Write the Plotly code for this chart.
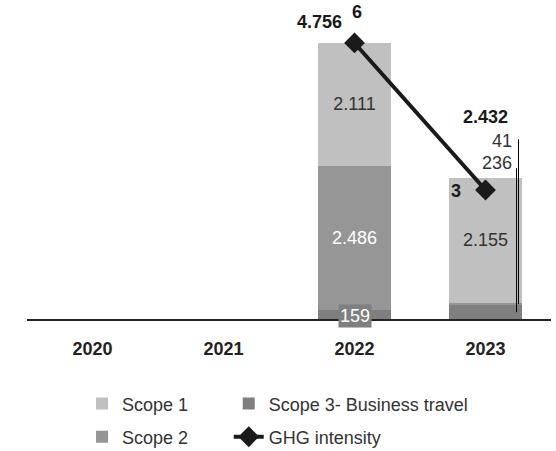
import plotly.graph_objects as go

# Emissions by year (tCO2e) and GHG intensity
years = ["2020", "2021", "2022", "2023"]
scope1 = [None, None, 2111, 2155]
scope2 = [None, None, 2486, 41]
scope3_travel = [None, None, 159, 236]
ghg_intensity = [None, None, 6, 3]

FONT = "Liberation Sans, Arial, sans-serif"
C_SCOPE1 = "#c0c0c0"
C_SCOPE2 = "#969696"
C_SCOPE3 = "#7f7f7f"
C_LINE = "#1a1a1a"
C_TEXT = "#333333"
LABEL_MIN = 300  # smaller segments get an outside label instead of an inside one


def fmt(v):
    return f"{v:,}".replace(",", ".")


def inside_labels(values):
    return [fmt(v) if v is not None and v >= LABEL_MIN else "" for v in values]


totals = [None if a is None else a + b + c
          for a, b, c in zip(scope1, scope2, scope3_travel)]

fig = go.Figure()

bar_common = dict(x=years, width=0.55, marker_line_width=0,
                  textposition="inside", insidetextanchor="middle",
                  textangle=0, constraintext="none", hoverinfo="skip")

fig.add_bar(name="Scope 3- Business travel", y=scope3_travel,
            marker_color=C_SCOPE3, legend="legend2", **bar_common)
fig.add_bar(name="Scope 2", y=scope2, marker_color=C_SCOPE2,
            text=inside_labels(scope2), textfont=dict(color="white", size=18),
            legend="legend3", **bar_common)
fig.add_bar(name="Scope 1", y=scope1, marker_color=C_SCOPE1,
            text=inside_labels(scope1), textfont=dict(color=C_TEXT, size=18),
            legend="legend", **bar_common)

fig.add_scatter(name="GHG intensity", x=years, y=ghg_intensity, yaxis="y2",
                mode="lines+markers", line=dict(color=C_LINE, width=4),
                marker=dict(symbol="diamond", size=16, color=C_LINE),
                cliponaxis=False, legend="legend4", hoverinfo="skip")

annotations = []
# stacked totals (x given as category index)
total_offsets = {"2022": (-35, 21), "2023": (0, 61)}
for i, (yr, t) in enumerate(zip(years, totals)):
    if t is None:
        continue
    dx, dy = total_offsets[yr]
    annotations.append(dict(x=i, y=t, text=fmt(t), showarrow=False,
                            xshift=dx, yshift=dy, yanchor="middle",
                            font=dict(size=18, color=C_LINE, weight="bold")))
# intensity values
intensity_offsets = {"2022": (2, 31), "2023": (-30, -1)}
for i, (yr, g) in enumerate(zip(years, ghg_intensity)):
    if g is None:
        continue
    dx, dy = intensity_offsets[yr]
    annotations.append(dict(x=i, y=g, yref="y2", text=str(g), showarrow=False,
                            xshift=dx, yshift=dy, yanchor="middle",
                            font=dict(size=18, color=C_LINE, weight="bold")))

# 2022 business travel: boxed label on the segment
i22 = years.index("2022")
annotations.append(dict(x=i22, y=scope3_travel[i22] / 2, text=fmt(scope3_travel[i22]),
                        showarrow=False, yshift=-2, bgcolor=C_SCOPE3, borderpad=1,
                        font=dict(size=18, color="white")))

# 2023 thin segments: callouts with leader lines
i23 = years.index("2023")
shapes = []
callouts = [
    # value, segment middle, label offset above total (px), line x, line length (px)
    (scope2[i23], scope3_travel[i23] + scope2[i23] / 2, 37, i23 + 0.252, 165),
    (scope3_travel[i23], scope3_travel[i23] / 2, 15, i23 + 0.237, 144),
]
for val, mid, dy, lx, length in callouts:
    annotations.append(dict(x=i23, y=totals[i23], text=fmt(val), showarrow=False,
                            xanchor="right", xshift=28, yshift=dy, yanchor="middle",
                            font=dict(size=18, color=C_TEXT)))
    shapes.append(dict(type="line", xref="x", yref="y", x0=lx, x1=lx,
                       ysizemode="pixel", yanchor=mid, y0=0, y1=length,
                       line=dict(color="black", width=1)))

legend_common = dict(orientation="h", xref="paper", yref="paper",
                     xanchor="left", yanchor="middle",
                     bgcolor="rgba(0,0,0,0)",
                     font=dict(size=18, color=C_TEXT, family=FONT))
col1, col2 = 0.105, 0.385
row1, row2 = -0.266, -0.37

fig.update_layout(
    width=556, height=451,
    margin=dict(l=27, r=5, t=0, b=132, autoexpand=False),
    barmode="stack",
    separators=",.",
    paper_bgcolor="white", plot_bgcolor="white",
    font=dict(family=FONT, size=18, color=C_TEXT),
    xaxis=dict(type="category", range=[-0.5, 3.5], showline=True,
               linecolor="#222222", linewidth=2, showgrid=False, zeroline=False,
               ticks="outside", ticklen=12, tickcolor="rgba(0,0,0,0)",
               tickfont=dict(size=18, color="#222222", weight="bold")),
    yaxis=dict(range=[0, 5502], visible=False),
    yaxis2=dict(range=[0.367, 6.877], overlaying="y", visible=False),
    legend=dict(x=col1, y=row1, **legend_common),
    legend2=dict(x=col2, y=row1, **legend_common),
    legend3=dict(x=col1, y=row2, **legend_common),
    legend4=dict(x=col2, y=row2, **legend_common),
    annotations=annotations,
    shapes=shapes,
    showlegend=True,
)

fig.write_html("out.html")
